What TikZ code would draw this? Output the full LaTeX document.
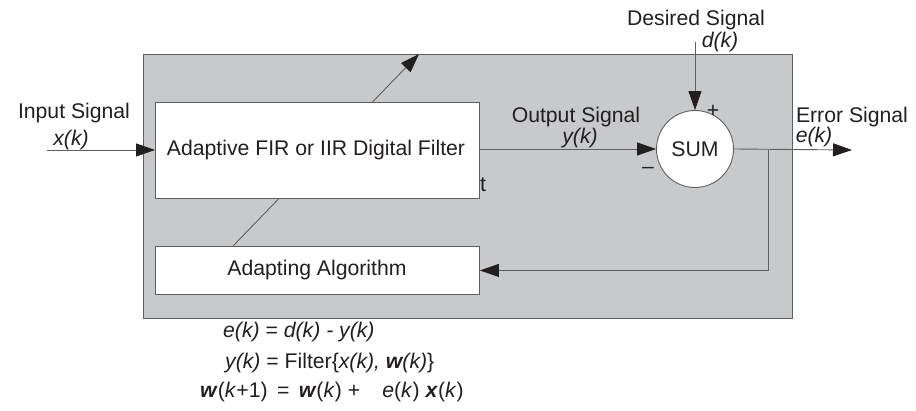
\documentclass[tikz,border=0pt]{standalone}
\usepackage{fontspec}
\setmainfont{Liberation Sans}
\usetikzlibrary{arrows.meta}
\definecolor{panel}{RGB}{200,201,203}
\definecolor{edge}{RGB}{95,95,95}
\definecolor{ink}{RGB}{35,31,32}
\begin{document}
\begin{tikzpicture}[x=1pt,y=-1pt,
  font=\fontsize{21.2}{24}\selectfont, text=ink,
  box/.style={draw=edge, line width=0.9pt, fill=white, minimum width=324pt, anchor=north west, inner sep=0pt},
  lbl/.style={inner sep=0pt},
  wire/.style={draw=edge, line width=0.9pt},
  arr/.style={wire, -{Triangle[length=19pt,width=13pt,color=ink,fill=ink]}}]
\useasboundingbox (0,0) rectangle (916,411);
% panel
\node[draw=edge, line width=1pt, fill=panel, minimum width=649pt, minimum height=264pt, anchor=north west, inner sep=0pt] (bg) at (143,54) {};
% adaptation arrow (passes behind the blocks)
\coordinate (da) at (233,246);
\coordinate (db) at (419,54);
\draw[arr] (da) -- (db);
% blocks
\node[box, minimum height=96pt] (filt) at (155,102) {};
\node[lbl] (filttxt) at (316,150) {Adaptive FIR or IIR Digital Filter};
\node[box, minimum height=48pt] (alg) at (155,246) {};
\node[lbl] (algtxt) at (317,270) {Adapting Algorithm};
\node[draw=edge, line width=0.9pt, fill=white, circle, minimum size=77pt, inner sep=0pt] (sum) at (695,149) {SUM};
% coordinates
\coordinate (in) at (47,150);
\coordinate (dsrc) at (695,42);
\coordinate (eout) at (852,150);
\coordinate (tap) at (768,150);
% connectors
\draw[arr] (in) -- (filt.west |- in);
\draw[arr] (filt.east |- sum) -- (sum.west);
\draw[arr] (dsrc) -- (sum.north);
\draw[arr] (sum.east) -- (eout);
\draw[arr] (tap) |- (alg.east);
% labels
\node[lbl] (inlbl) at (74,113) {Input Signal};
\node[lbl] (inx) at (71,140) {\itshape x(k)};
\node[lbl] (outlbl) at (576,117) {Output Signal};
\node[lbl] (outy) at (580,138) {\itshape y(k)};
\node[lbl] (deslbl) at (696,20) {Desired Signal};
\node[lbl] (desd) at (720,42) {\itshape d(k)};
\node[lbl] (errlbl) at (852,117) {Error Signal};
\node[lbl] (erre) at (814,137) {\itshape e(k)};
\node[lbl] (plus) at (713,111) {+};
\node[lbl] (minus) at (648,170) {–};
\node[lbl] (tstray) at (483,185) {t};
% equations
\node[lbl, anchor=west] (eq1) at (223,332) {\itshape e(k) \upshape= \itshape d(k) - y(k)};
\node[lbl, anchor=west] (eq2) at (225,363) {\itshape y(k) \upshape= Filter\{\itshape x(k), \textbf{w}(k)\upshape\}};
\node[lbl, anchor=west] (eq3) at (200,392) {\textbf{\itshape w}(\textit{k}+1) \,=\, \textbf{\itshape w}(\textit{k}) +\hspace{22pt}\textit{e}(\textit{k}) \textbf{\itshape x}(\textit{k})};
\end{tikzpicture}
\end{document}
